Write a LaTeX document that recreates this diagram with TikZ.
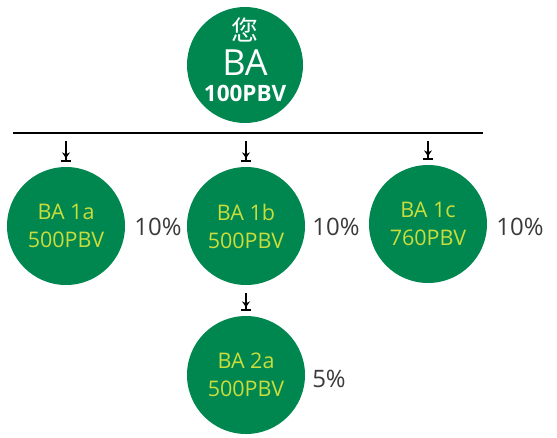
\documentclass[tikz,border=0pt]{standalone}
\usepackage{fontspec}
\setmainfont{Open Sans}
\newfontfamily\cjk{Noto Sans CJK SC}
\usetikzlibrary{arrows.meta}

\definecolor{leafgreen}{HTML}{00874F}
\definecolor{limetext}{HTML}{C9DD3C}
\definecolor{pcgray}{HTML}{3A3A3A}

\begin{document}
\begin{tikzpicture}[x=1pt,y=-1pt,
    ba/.style={circle,fill=leafgreen,minimum size=118pt,inner sep=0pt,align=center,
      text=limetext,font=\fontsize{21.5}{28}\selectfont},
    pct/.style={text=pcgray,font=\fontsize{24}{28}\selectfont},
    drop/.style={line width=1.1pt,-{Stealth[length=6pt,width=8pt,sep=2pt]Bar[width=10pt,line width=1.5pt]},shorten >=5pt},
  ]
        \useasboundingbox (0,0) rectangle (557,437);
        \node[ba,minimum size=116pt,text=white] (you) at (245,65) {};
        \node[text=white,font=\cjk\fontsize{27}{27}\selectfont] (youchar) at (245,30) {您};
        \node[text=white,font=\fontsize{36}{36}\selectfont] (youba) at (245,63) {BA};
        \node[text=white,font=\bfseries\fontsize{22.5}{22.5}\selectfont] (youpbv) at (245,93) {100PBV};

        \coordinate (lineL) at (13,133);
        \coordinate (lineR) at (483,133);
        \draw[line width=1.2pt] (lineL) -- (lineR);

        \node[ba] (b1a) at (66,226) {BA 1a\\500PBV};
        \node[ba] (b1b) at (246,226) {BA 1b\\500PBV};
        \node[ba] (b1c) at (428,224) {BA 1c\\760PBV};
        \node[ba] (b2a) at (246,375) {BA 2a\\500PBV};

        \foreach \n in {b1a,b1b,b1c}
        \draw[drop] (\n.north |- 0,141) -- (\n.north);
        \draw[drop] (b2a.north |- 0,293) -- (b2a.north);

        \node[pct] (p1a) at (158,227) {10\%};
        \node[pct] (p1b) at (336,227) {10\%};
        \node[pct] (p1c) at (520,227) {10\%};
        \node[pct] (p2a) at (329,379) {5\%};
\end{tikzpicture}
\end{document}
